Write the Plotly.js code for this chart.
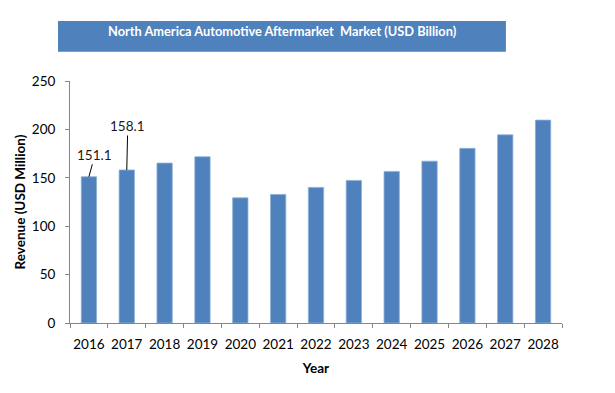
<!DOCTYPE html>
<html>
<head>
<meta charset="utf-8">
<script src="https://cdn.plot.ly/plotly-3.0.1.min.js"></script>
<style>html,body{margin:0;padding:0;background:#fff}#chart{width:615px;height:393px}</style>
</head>
<body>
<div id="chart"></div>
<script>
const years = ["2016","2017","2018","2019","2020","2021","2022","2023","2024","2025","2026","2027","2028"];
const revenue = [151.1, 158.1, 165.2, 171.7, 129.3, 132.8, 140.1, 147.3, 156.6, 167.2, 180.4, 194.4, 209.6];
const labelledYears = ["2016","2017"];
const labelledValues = [151.1, 158.1];
const chartTitle = "North America Automotive Aftermarket  Market (USD Billion)";
const yTickVals = [0, 50, 100, 150, 200, 250];

const FONT = "Lato, 'Open Sans', sans-serif";
const labelOffsets = [[6, -22], [1, -44]];

const annotations = labelledYears.map((yr, i) => ({
  x: years.indexOf(yr), y: labelledValues[i], xref: 'x', yref: 'y',
  text: labelledValues[i].toFixed(1),
  showarrow: true, arrowhead: 0, arrowwidth: 1, arrowcolor: '#000',
  ax: labelOffsets[i][0], ay: labelOffsets[i][1],
  font: {family: FONT, size: 13.5, color: '#1a1a1a'}
}));
annotations.push({
  xref: 'paper', yref: 'paper', x: 0.431, y: 1.207, yanchor: 'middle', xanchor: 'center',
  text: '<b>' + chartTitle + '</b>', showarrow: false,
  font: {family: FONT, size: 12.8, color: '#ffffff'}
});

const data = [{
  type: 'bar', x: years, y: revenue,
  marker: {color: '#4F81BD', line: {color: '#8fb0da', width: 0.8}},
  hoverinfo: 'skip'
}];

const layout = {
  width: 615, height: 393,
  margin: {l: 70, r: 53, t: 81, b: 70},
  paper_bgcolor: '#fff', plot_bgcolor: '#fff',
  bargap: 0.595,
  showlegend: false,
  font: {family: FONT, size: 12, color: '#000'},
  shapes: [{
    type: 'rect', xref: 'paper', yref: 'paper',
    x0: -0.0244, x1: 0.886, y0: 1.121, y1: 1.248,
    fillcolor: '#4F81BD', line: {width: 0}, layer: 'below'
  }],
  annotations: annotations,
  xaxis: {
    type: 'category', range: [-0.5, years.length - 0.5], autorange: false,
    tickson: 'boundaries', ticks: 'outside', ticklen: 4,
    tickcolor: '#868686', showline: true, linecolor: '#868686', linewidth: 1,
    showgrid: false, zeroline: false, tickangle: 0, ticklabelstandoff: 9,
    tickfont: {family: FONT, size: 13.5, color: '#000'},
    title: {text: '<b>Year</b>', font: {family: FONT, size: 13.5, color: '#000'}, standoff: 12}
  },
  yaxis: {
    range: [0, 250], tickvals: yTickVals, ticks: 'outside', ticklen: 4,
    tickcolor: '#868686', showline: true, linecolor: '#868686', linewidth: 1,
    showgrid: false, zeroline: false, ticklabelstandoff: 7,
    tickfont: {family: FONT, size: 13.5, color: '#000'},
    title: {text: '<b>Revenue (USD Million)</b>', font: {family: FONT, size: 13.5, color: '#000'}, standoff: 3}
  }
};

Plotly.newPlot('chart', data, layout, {staticPlot: true, displayModeBar: false});
</script>
</body>
</html>
